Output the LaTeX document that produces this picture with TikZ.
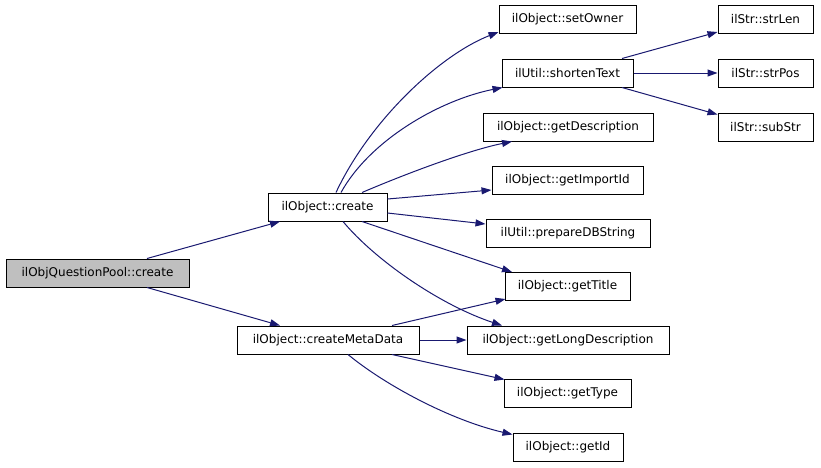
\documentclass[tikz,border=0pt]{standalone}
\usepackage{fontspec}
\setmainfont{DejaVu Sans}
\usetikzlibrary{arrows.meta}
\definecolor{edgeblue}{HTML}{191970}
\definecolor{qpgray}{HTML}{BFBFBF}
\tikzset{
  fn/.style={draw=black, line width=1pt, fill=white, rectangle, inner sep=0pt,
    minimum height=28pt, font=\fontsize{12}{14}\selectfont},
  call/.style={draw=edgeblue, line width=1pt, -{Triangle[length=10pt,width=7pt]}, color=edgeblue}
}
\begin{document}
\begin{tikzpicture}[x=1pt,y=-1pt]
\useasboundingbox (0,0) rectangle (821,467);
\node[fn, fill=qpgray, minimum width=183pt] (qp) at (97.5,273) {ilObjQuestionPool::create};
\node[fn, minimum width=119pt] (cr) at (327.5,207) {ilObject::create};
\node[fn, minimum width=182pt] (cmd) at (328,340) {ilObject::createMetaData};
\node[fn, minimum width=137pt] (so) at (567.5,19.5) {ilObject::setOwner};
\node[fn, minimum width=131pt] (st) at (567.5,73) {ilUtil::shortenText};
\node[fn, minimum width=170pt] (gd) at (568,127) {ilObject::getDescription};
\node[fn, minimum width=151pt] (gi) at (567.5,180) {ilObject::getImportId};
\node[fn, minimum width=164pt] (pd) at (568,233) {ilUtil::prepareDBString};
\node[fn, minimum width=125pt] (gt) at (567.5,286.5) {ilObject::getTitle};
\node[fn, minimum width=202pt] (gl) at (568,340) {ilObject::getLongDescription};
\node[fn, minimum width=127pt] (gy) at (567.5,393) {ilObject::getType};
\node[fn, minimum width=110pt] (gid) at (568,447) {ilObject::getId};
\node[fn, minimum width=95pt] (sl) at (765.5,19.5) {ilStr::strLen};
\node[fn, minimum width=95pt] (sp) at (765.5,73) {ilStr::strPos};
\node[fn, minimum width=95pt] (ss) at (765.5,127) {ilStr::subStr};

\draw[call] ([xshift=49.5pt]qp.north) -- ([xshift=-47.5pt]cr.south);
\draw[call] ([xshift=49.5pt]qp.south) -- ([xshift=-48pt]cmd.north);

\draw[call] ([xshift=8.5pt]cr.north) .. controls (370,120) and (440,55) .. ([yshift=2pt]so.south west);
\draw[call] ([xshift=13.5pt]cr.north) .. controls (370,140) and (440,100) .. ([xshift=1pt]st.south west);
\draw[call] ([xshift=34.5pt]cr.north) .. controls (410,172) and (470,150) .. ([xshift=-56pt]gd.south);
\draw[call] ([yshift=8pt]cr.east) -- ([yshift=-10pt]gi.west);
\draw[call] ([yshift=-6pt]cr.east) -- ([yshift=9pt]pd.west);
\draw[call] ([xshift=34.5pt]cr.south) -- ([xshift=-55.5pt]gt.north);
\draw[call] ([xshift=15.5pt]cr.south) .. controls (375,260) and (440,305) .. ([xshift=-66pt]gl.north);

\draw[call] ([xshift=64pt]cmd.north) -- ([yshift=2pt,xshift=1pt]gt.south west);
\draw[call] (cmd.east) -- (gl.west);
\draw[call] ([xshift=64pt]cmd.south) -- ([yshift=-1pt,xshift=1pt]gy.north west);
\draw[call] ([xshift=20pt]cmd.south) .. controls (385,385) and (450,420) .. ([yshift=-2pt]gid.north west);

\draw[call] ([xshift=54.5pt]st.north) -- ([yshift=2pt]sl.south west);
\draw[call] (st.east) -- (sp.west);
\draw[call] ([xshift=54.5pt]st.south) -- ([yshift=-2pt]ss.north west);
\end{tikzpicture}
\end{document}
